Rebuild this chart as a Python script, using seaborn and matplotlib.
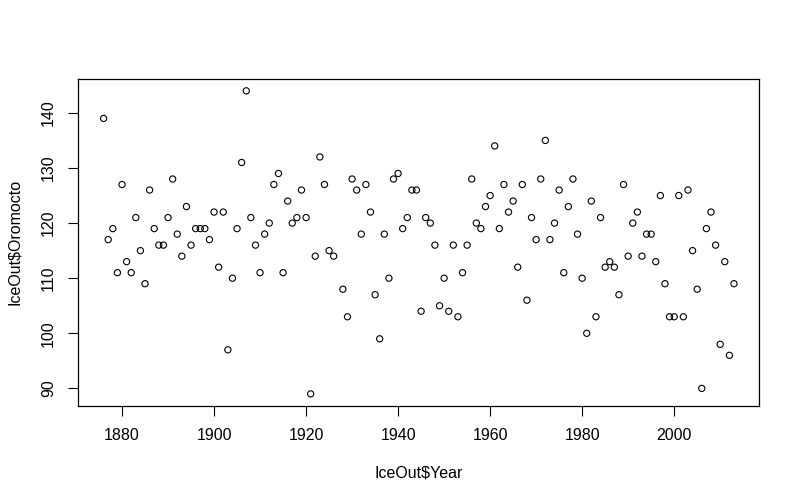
import numpy as np
import pandas as pd
import matplotlib
matplotlib.use('Agg')
import matplotlib.pyplot as plt
import seaborn as sns

# ice-out day of year, Oromocto (1927 missing)
years = list(range(1876, 1927)) + list(range(1928, 2014))
oromocto = [
    139, 117, 119, 111, 127, 113, 111, 121, 115, 109,   # 1876-1885
    126, 119, 116, 116, 121, 128, 118, 114, 123, 116,   # 1886-1895
    119, 119, 119, 117, 122, 112, 122, 97, 110, 119,    # 1896-1905
    131, 144, 121, 116, 111, 118, 120, 127, 129, 111,   # 1906-1915
    124, 120, 121, 126, 121, 89, 114, 132, 127, 115,    # 1916-1925
    114,                                                # 1926
    108, 103, 128, 126, 118, 127, 122, 107, 99, 118,    # 1928-1937
    110, 128, 129, 119, 121, 126, 126, 104, 121, 120,   # 1938-1947
    116, 105, 110, 104, 116, 103, 111, 116, 128, 120,   # 1948-1957
    119, 123, 125, 134, 119, 127, 122, 124, 112, 127,   # 1958-1967
    106, 121, 117, 128, 135, 117, 120, 126, 111, 123,   # 1968-1977
    128, 118, 110, 100, 124, 103, 121, 112, 113, 112,   # 1978-1987
    107, 127, 114, 120, 122, 114, 118, 118, 113, 125,   # 1988-1997
    109, 103, 103, 125, 103, 126, 115, 108, 90, 119,    # 1998-2007
    122, 116, 98, 113, 96, 109,                         # 2008-2013
]
x_ticks = [1880, 1900, 1920, 1940, 1960, 1980, 2000]
y_ticks = [90, 100, 110, 120, 130, 140]

df = pd.DataFrame({'Year': years, 'Oromocto': oromocto})

sns.set_style('white')
plt.rcParams['font.family'] = ['Liberation Sans', 'DejaVu Sans']
plt.rcParams['text.color'] = 'black'
plt.rcParams['axes.labelcolor'] = 'black'
plt.rcParams['xtick.color'] = 'black'
plt.rcParams['ytick.color'] = 'black'

fig = plt.figure(figsize=(8, 5.04), dpi=100)
ax = fig.add_axes([0.098, 0.1944, 0.851, 0.6494])

sns.scatterplot(data=df, x='Year', y='Oromocto', ax=ax, marker='o', s=20,
                facecolor='none', edgecolor='black', linewidth=0.8)

# R-style 4% padding on each side
xr = max(years) - min(years)
yr = max(oromocto) - min(oromocto)
ax.set_xlim(min(years) - 0.04 * xr, max(years) + 0.04 * xr)
ax.set_ylim(min(oromocto) - 0.04 * yr, max(oromocto) + 0.04 * yr)

ax.set_xticks(x_ticks)
ax.set_yticks(y_ticks)
ax.set_yticklabels([str(v) for v in y_ticks], rotation=90, va='center')
ax.tick_params(axis='both', direction='out', length=7, width=0.8,
               color='black', labelcolor='black', labelsize=11.5, pad=9,
               left=True, bottom=True)

for sp in ax.spines.values():
    sp.set_color('black')
    sp.set_linewidth(0.9)

ax.set_xlabel('IceOut$Year', fontsize=11.5, labelpad=16)
ax.set_ylabel('IceOut$Oromocto', fontsize=11.5, labelpad=14)

fig.savefig('out.png', dpi=100, facecolor='white')
